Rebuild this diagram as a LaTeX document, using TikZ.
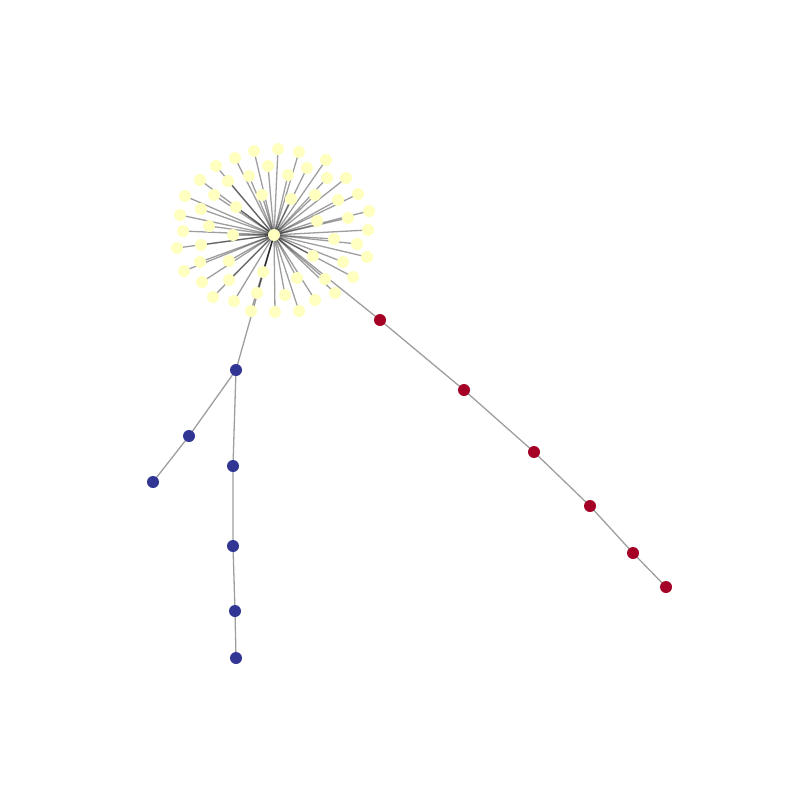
\documentclass[tikz,border=0pt]{standalone}
\usepackage{tikz}
\usetikzlibrary{positioning}
\definecolor{hubyellow}{HTML}{FFFFBF}
\definecolor{chainblue}{HTML}{313695}
\definecolor{chainred}{HTML}{A50026}
\pgfdeclarelayer{edges}
\pgfsetlayers{edges,main}

\begin{document}
\begin{tikzpicture}[x=1pt, y=-1pt,
    leaf/.style={circle, fill=hubyellow, inner sep=0pt, minimum size=12pt},
    bnode/.style={leaf, fill=chainblue},
    rnode/.style={leaf, fill=chainred},
    link/.style={draw=black, opacity=0.38, line width=1.3pt}]
    \useasboundingbox (0,0) rectangle (800,800);

    % Hub and its leaves
    \node[leaf] (hub) at (274,235) {};
    \foreach \px/\py [count=\i] in {
        254/151, 278/149, 235/158, 216/166, 268/166, 200/180, 228/181, 249/176,
        185/196, 214/195, 262/195, 201/209, 236/207, 180/215, 209/226, 183/231,
        233/235, 299/152, 326/160, 307/168, 288/175, 327/178, 346/178, 315/195,
        291/199, 338/200, 358/194, 369/211, 348/218, 317/221, 368/230, 177/248,
        201/245, 200/262, 229/261, 184/271, 202/282, 229/280, 263/272, 213/297,
        234/301, 257/293, 251/311, 275/312, 334/239, 357/244, 313/256, 343/262,
        367/257, 297/278, 325/279, 353/277, 285/295, 315/300, 335/293, 299/311} {
        \node[leaf] (y\i) at (\px,\py) {};
    }

    % Blue chain
    \node[bnode] (b1) at (236,370) {};
    \node[bnode] (b2) at (189,436) {};
    \node[bnode] (b3) at (153,482) {};
    \node[bnode] (b4) at (233,466) {};
    \node[bnode] (b5) at (233,546) {};
    \node[bnode] (b6) at (235,611) {};
    \node[bnode] (b7) at (236,658) {};

    % Red chain
    \node[rnode] (r1) at (380,320) {};
    \node[rnode] (r2) at (464,390) {};
    \node[rnode] (r3) at (534,452) {};
    \node[rnode] (r4) at (590,506) {};
    \node[rnode] (r5) at (633,553) {};
    \node[rnode] (r6) at (666,587) {};

    % Edges
    \begin{pgfonlayer}{edges}
        \fill[white] (0,0) rectangle (800,800);
        \foreach \i in {1,...,56} {
            \draw[link] (hub.center) -- (y\i.center);
        }
        \draw[link] (hub.center) -- (b1.center) -- (b2.center) -- (b3.center);
        \draw[link] (b1.center) -- (b4.center) -- (b5.center) -- (b6.center) -- (b7.center);
        \draw[link] (hub.center) -- (r1.center) -- (r2.center) -- (r3.center)
            -- (r4.center) -- (r5.center) -- (r6.center);
    \end{pgfonlayer}
\end{tikzpicture}
\end{document}
